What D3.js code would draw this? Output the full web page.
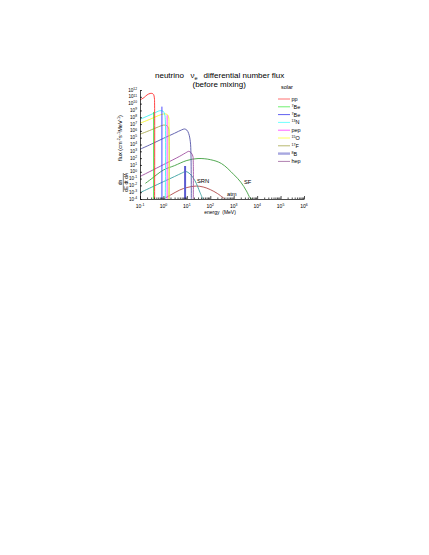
<!DOCTYPE html>
<html><head><meta charset="utf-8">
<script src="https://cdn.jsdelivr.net/npm/d3@7"></script>
<style>body{margin:0;background:#fff}svg{display:block}</style>
</head><body>
<svg id="c" width="429" height="555"></svg>
<script>
// ---------- data (energy in MeV, flux in cm^-2 s^-1 MeV^-1; lines in cm^-2 s^-1) ----------
const xTickValues = [1e-1, 1e0, 1e1, 1e2, 1e3, 1e4, 1e5, 1e6];
const xTickExponents = ["-1", "0", "1", "2", "3", "4", "5", "6"];
const yTickExponents = [-4, -3, -2, -1, 0, 1, 2, 3, 4, 5, 6, 7, 8, 9, 10, 11, 12];

const ppFlux = [[0.1,3.4e10],[0.15,8e10],[0.2,1.9e11],[0.27,3.1e11],[0.33,3.1e11],[0.38,2.2e11],[0.41,7e10],[0.42,6e9],[0.42,1e-4]];
const be7LowLine = [[0.384,6e8],[0.384,1e-4]];
const be7HighLine = [[0.862,3.6e9],[0.862,1e-4]];
const n13Flux = [[0.1,5e7],[0.2,1.4e8],[0.4,4e8],[0.7,9e8],[0.95,8e8],[1.12,3e8],[1.2,5e7],[1.2,1e-4]];
const pepLine = [[1.44,2e8],[1.44,1e-4]];
const o15Flux = [[0.1,1.3e7],[0.3,6e7],[0.6,1.7e8],[1.0,3e8],[1.4,2.8e8],[1.65,1.2e8],[1.73,1e7],[1.73,1e-4]];
const f17Flux = [[0.1,3.2e5],[0.3,1.4e6],[0.6,3.8e6],[1.0,7e6],[1.4,6e6],[1.65,2.5e6],[1.74,2e5],[1.74,1e-4]];
const b8Flux = [[0.1,2e3],[0.3,1.1e4],[1,8e4],[3,4.5e5],[6,1.4e6],[8,1.9e6],[10,1.3e6],[12,4e5],[14,3e4],[15,3e2],[15.5,1e-4]];
const b8Marker = [[8.4,7],[8.4,1e-4]];
const hepFlux = [[0.1,0.2],[1,11],[5,190],[10,750],[12,1000],[15,650],[18,200],[18.8,20],[18.8,1e-4]];
const srnFlux = [[0.107,9.5e-4],[0.3,5e-3],[1,0.035],[3,0.2],[6,0.62],[9,1.07],[13.7,0.47],[22.5,0.044],[36,1e-3],[48,1e-4]];
const sfFlux = [[0.17,0.02],[0.3,0.085],[1,1.8],[3,8],[10,45],[30,87],[100,60],[300,16],[1000,0.4],[2000,0.03],[3500,1.5e-3],[5000,1.5e-4],[6000,1e-4]];
const atmFlux = [[1,1e-4],[2,3.8e-4],[5,2.1e-3],[10,4.8e-3],[25,7.9e-3],[50,5.8e-3],[100,2.4e-3],[200,6.5e-4],[350,1.6e-4],[420,1e-4]];

const legendSup = ["", "7", "7", "13", "", "15", "17", "8", ""];
const legendBase = ["pp", "Be", "Be", "N", "pep", "O", "F", "B", "hep"];

// ---------- drawing ----------
const FONT = "'Liberation Sans', Arial, Helvetica, sans-serif";
const svg = d3.select('#c').attr('font-family', FONT);
const x = d3.scaleLog().domain([1e-1, 1e6]).range([140, 304]);
const y = d3.scaleLog().domain([1e-4, 1e12]).range([199, 90]);
const line = d3.line()
  .x(d => x(d[0]))
  .y(d => y(Math.max(d[1], 1e-4)))
  .curve(d3.curveCatmullRom.alpha(0.5));

const series = [
  {data: atmFlux, color: '#b04848', w: 0.9},
  {data: srnFlux, color: '#3aa0a0', w: 0.9},
  {data: sfFlux, color: '#3f9f3f', w: 0.9},
  {data: b8Marker, color: '#5a5ad0', w: 2},
  {data: hepFlux, color: '#a050a0', w: 0.9},
  {data: b8Flux, color: '#5555a8', w: 0.9},
  {data: f17Flux, color: '#a8a850', w: 0.9},
  {data: o15Flux, color: '#f4f430', w: 0.9},
  {data: pepLine, color: '#ff40ff', w: 0.9},
  {data: n13Flux, color: '#40f4f4', w: 0.9},
  {data: be7HighLine, color: '#3838ff', w: 0.9},
  {data: be7LowLine, color: '#30e030', w: 0.9},
  {data: ppFlux, color: '#ff3030', w: 0.9}
];
svg.append('g').selectAll('path').data(series).join('path')
  .attr('d', d => line(d.data))
  .attr('fill', 'none')
  .attr('stroke', d => d.color)
  .attr('stroke-width', d => d.w);

// axes
const xAxis = d3.axisBottom(x).tickValues(xTickValues).tickSize(-3).tickSizeOuter(0).tickFormat(() => '');
const gx = svg.append('g').attr('transform', 'translate(0,199)').call(xAxis);
const minor = [];
for (let e = -1; e < 6; e++) for (let m = 2; m < 10; m++) minor.push(m * Math.pow(10, e));
svg.append('g').attr('transform', 'translate(0,199)')
  .call(d3.axisBottom(x).tickValues(minor).tickSize(-1.5).tickSizeOuter(0).tickFormat(() => ''))
  .select('.domain').remove();
const yTickValues = yTickExponents.map(e => Math.pow(10, e));
const gy = svg.append('g').attr('transform', 'translate(140,0)')
  .call(d3.axisLeft(y).tickValues(yTickValues).tickSize(-2).tickSizeOuter(0).tickFormat(() => ''));
svg.selectAll('.domain, .tick line').attr('stroke', '#000').attr('stroke-width', 0.7);

// tick labels
const xl = svg.append('g').attr('font-size', 5).attr('text-anchor', 'middle');
xTickValues.forEach((v, i) => {
  const t = xl.append('text').attr('x', x(v)).attr('y', 208);
  t.append('tspan').text('10');
  t.append('tspan').attr('dy', -2).attr('font-size', 3.5).text(xTickExponents[i]);
});
const yl = svg.append('g').attr('font-size', 4.6).attr('text-anchor', 'end');
yTickExponents.forEach(e => {
  const t = yl.append('text').attr('x', 137).attr('y', y(Math.pow(10, e)) + 1.6);
  t.append('tspan').text('10');
  t.append('tspan').attr('dy', -1.8).attr('font-size', 3.3).text(String(e));
});

// axis titles
svg.append('text').attr('x', 220).attr('y', 214).attr('font-size', 5).attr('text-anchor', 'middle')
  .attr('xml:space', 'preserve').text('energy  (MeV)');
const yt = svg.append('text').attr('transform', 'translate(122,138) rotate(-90)')
  .attr('font-size', 5.6).attr('text-anchor', 'middle');
yt.append('tspan').text('flux  (cm');
yt.append('tspan').attr('dy', -2).attr('font-size', 3.8).text('-2');
yt.append('tspan').attr('dy', 2).text('s');
yt.append('tspan').attr('dy', -2).attr('font-size', 3.8).text('-1');
yt.append('tspan').attr('dy', 2).text('MeV');
yt.append('tspan').attr('dy', -2).attr('font-size', 3.8).text('-1');
yt.append('tspan').attr('dy', 2).text(')');
const fr = svg.append('g').attr('transform', 'translate(123.3,182.5) rotate(-90)').attr('font-size', 5).attr('text-anchor', 'middle');
fr.append('text').attr('x', 0).attr('y', -1.2).text('dn');
fr.append('line').attr('x1', -9.5).attr('x2', 9.5).attr('y1', 0).attr('y2', 0).attr('stroke', '#000').attr('stroke-width', 0.5);
fr.append('text').attr('x', 0).attr('y', 4.4).text('dE dt dA');

// title
const title = svg.append('text').attr('font-size', 8).attr('y', 78);
title.append('tspan').attr('x', 155).text('neutrino');
title.append('tspan').attr('x', 190.5).text('\u03BD');
title.append('tspan').attr('dy', 2).attr('font-size', 5.5).text('e');
title.append('tspan').attr('x', 203.5).attr('dy', -2).text('differential number flux');
svg.append('text').attr('font-size', 8).attr('x', 192.5).attr('y', 86.5).text('(before mixing)');

// in-plot labels
svg.append('text').attr('font-size', 5.8).attr('x', 197).attr('y', 182.5).text('SRN');
svg.append('text').attr('font-size', 5.8).attr('x', 244).attr('y', 183.5).text('SF');
svg.append('text').attr('font-size', 5.8).attr('x', 227).attr('y', 195.5).text('atm');

// legend
const legendColors = ['#ff7070', '#70f070', '#6060f0', '#70ffff', '#ff60ff', '#ffff60', '#b8b870', '#a8a8e0', '#b080b0'];
const legendWidths = [1, 1, 1, 1, 1, 1, 1, 2.4, 1];
svg.append('text').attr('font-size', 5.5).attr('x', 287).attr('y', 89).attr('text-anchor', 'middle').text('solar');
const lg = svg.append('g');
legendBase.forEach((b, i) => {
  const yy = 99 + i * 7.8;
  lg.append('line').attr('x1', 278).attr('x2', 290).attr('y1', yy).attr('y2', yy)
    .attr('stroke', legendColors[i]).attr('stroke-width', legendWidths[i]);
  const t = lg.append('text').attr('x', 291.5).attr('y', yy + 2).attr('font-size', 5.5);
  if (legendSup[i]) {
    t.append('tspan').attr('dy', -2).attr('font-size', 3.6).text(legendSup[i]);
    t.append('tspan').attr('dy', 2).text(b);
  } else {
    t.append('tspan').text(b);
  }
});
</script>
</body></html>
